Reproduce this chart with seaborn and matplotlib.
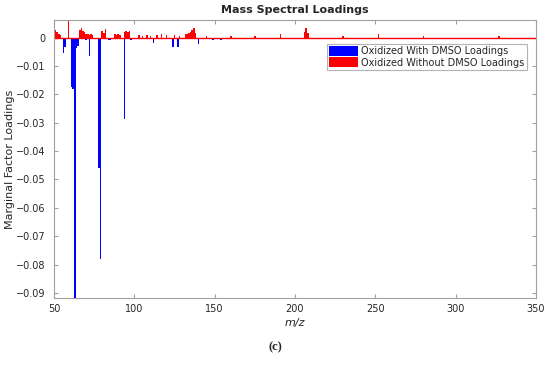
import numpy as np
import pandas as pd
import matplotlib
matplotlib.use("Agg")
import matplotlib.pyplot as plt
import seaborn as sns

# ---- data ----
with_mz = [56, 57, 61, 62, 63, 64, 65, 70, 72, 78, 79, 84, 85, 94, 98, 99,
           112, 124, 127, 140, 149, 154, 168, 185, 215, 240, 270, 300, 320, 345]
with_val = [-0.0053, -0.0034, -0.0173, -0.0180, -0.0930, -0.0035, -0.0030,
            -0.0010, -0.0066, -0.0458, -0.0780, -0.0010, -0.0008, -0.0287,
            -0.0010, -0.0005, -0.0020, -0.0032, -0.0034, -0.0023, -0.0010,
            -0.0010, -0.0003, -0.0003, -0.0003, -0.0003, -0.0003, -0.0003,
            -0.0003, -0.0003]

without_mz = [50, 51, 52, 53, 54, 59, 66, 67, 68, 69, 70, 71, 72, 73, 74,
              80, 81, 82, 88, 89, 90, 91, 94, 95, 96, 97, 103, 105, 108, 110,
              114, 117, 120, 125, 128, 132, 133, 134, 135, 136, 137, 138,
              145, 160, 175, 191, 206, 207, 208, 230, 252, 280, 327]
without_val = [0.0025, 0.0028, 0.0019, 0.0012, 0.0010, 0.0070, 0.0028,
               0.0035, 0.0022, 0.0018, 0.0013, 0.0012, 0.0010, 0.0012,
               0.0008, 0.0022, 0.0015, 0.0030, 0.0012, 0.0010, 0.0012,
               0.0008, 0.0018, 0.0022, 0.0020, 0.0024, 0.0008, 0.0007,
               0.0008, 0.0006, 0.0008, 0.0012, 0.0008, 0.0009, 0.0007,
               0.0012, 0.0012, 0.0015, 0.0020, 0.0025, 0.0033, 0.0015,
               0.0006, 0.0005, 0.0004, 0.0011, 0.0020, 0.0035, 0.0015,
               0.0004, 0.0012, 0.0004, 0.0005]

series_names = ["Oxidized With DMSO Loadings", "Oxidized Without DMSO Loadings"]
colors = ["#0000ff", "#ff0000"]

y_ticks = [0, -0.01, -0.02, -0.03, -0.04, -0.05, -0.06, -0.07, -0.08, -0.09]
x_ticks = [50, 100, 150, 200, 250, 300, 350]

df = pd.concat([
    pd.DataFrame({"mz": with_mz, "loading": with_val, "series": series_names[0]}),
    pd.DataFrame({"mz": without_mz, "loading": without_val, "series": series_names[1]}),
], ignore_index=True)

sns.set_theme(style="white")
plt.rcParams["font.family"] = ["DejaVu Sans"]

fig = plt.figure(figsize=(5.5, 3.65), dpi=100)
ax = fig.add_axes([54 / 550, 1 - 298 / 365, 482 / 550, 278 / 365])

sns.barplot(data=df, x="mz", y="loading", hue="series", native_scale=True,
            dodge=False, width=1.0, palette=dict(zip(series_names, colors)),
            saturation=1, errorbar=None, linewidth=0, ax=ax)

ax.axhline(0, color="#ff0000", lw=1.0, zorder=1)

ax.set_xlim(50, 350)
ax.set_ylim(-0.0918, 0.0062)
ax.set_xticks(x_ticks)
ax.set_xticklabels([str(t) for t in x_ticks])
ax.set_yticks(y_ticks)
ax.set_yticklabels(["0" if t == 0 else f"{t:.2f}".replace("-", "\u2212") for t in y_ticks])

for s in ax.spines.values():
    s.set_color("#a0a0a0")
    s.set_linewidth(0.8)
    s.set_visible(True)
ax.tick_params(direction="in", length=3, width=0.8, color="#a0a0a0",
               top=True, right=True, labelsize=7, labelcolor="#262626",
               bottom=True, left=True)
ax.tick_params(axis="x", pad=4)
ax.tick_params(axis="y", pad=6)

ax.set_title("Mass Spectral Loadings", fontsize=8, fontweight="bold", pad=5)
ax.set_xlabel("m/z", fontsize=8, style="italic", color="#262626", labelpad=3)
ax.set_ylabel("Marginal Factor Loadings", fontsize=8, color="#262626", labelpad=1)

leg = ax.legend(loc="upper right", bbox_to_anchor=(0.981, 0.915), fontsize=7,
                frameon=True, fancybox=False, edgecolor="#a0a0a0",
                handlelength=3.0, handleheight=1.2, labelspacing=0.1,
                borderpad=0.25, handletextpad=0.3, borderaxespad=0, title=None)
leg.get_frame().set_linewidth(0.8)
for t in leg.get_texts():
    t.set_color("#262626")

fig.text(0.5, 1 - 347 / 365, "(c)", ha="center", va="center", fontsize=9,
         fontweight="bold", family=["Liberation Serif", "DejaVu Serif"])

fig.savefig("out.png", dpi=100)
